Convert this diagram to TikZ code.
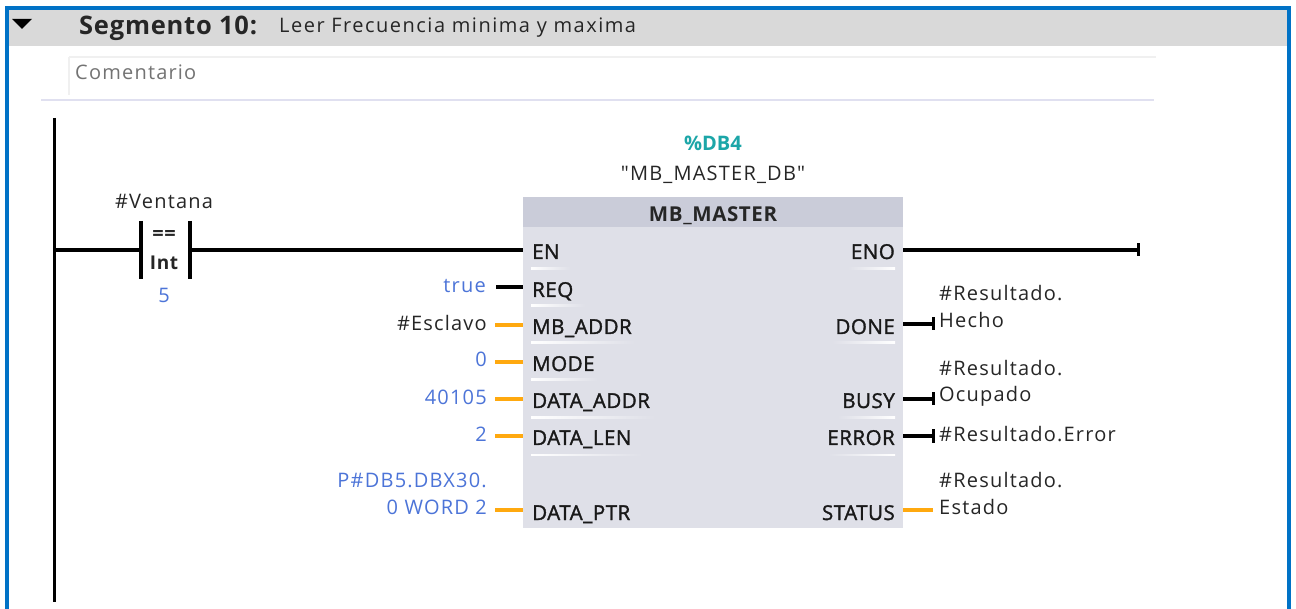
\documentclass[tikz,border=0pt]{standalone}
\usepackage{fontspec}
\setmainfont{Open Sans}
\newfontfamily\lblfont[LetterSpace=6]{Open Sans}
\newfontfamily\titlefont[LetterSpace=7.5]{Open Sans}
\newfontfamily\segfont[LetterSpace=3]{Open Sans}
\newfontfamily\pinfont[LetterSpace=2.5,FakeBold=1.5]{Open Sans}
\definecolor{frameblue}{HTML}{0072C6}
\definecolor{headgrey}{HTML}{D9D9D9}
\definecolor{blockbg}{HTML}{DFE0E8}
\definecolor{blockhead}{HTML}{CACCD9}
\definecolor{valblue}{HTML}{4C74D8}
\definecolor{tealdb}{HTML}{1CA6A8}
\definecolor{wire}{HTML}{FFA90F}
\definecolor{sepline}{HTML}{E0E0F0}
\tikzset{
  x=1pt,y=-1pt,
  lbl/.style={inner sep=0pt,font=\lblfont\fontsize{20}{20}\selectfont,text=black!85},
  pinl/.style={lbl,anchor=base west,font=\pinfont\fontsize{20.5}{20.5}\selectfont,text=black!90},
  pinr/.style={pinl,anchor=base east},
  val/.style={lbl,anchor=base east,text=valblue},
  outlbl/.style={lbl,anchor=base west},
  bw/.style={line width=3.5pt,black},
  ow/.style={line width=3.5pt,wire},
  endtick/.style={line width=3pt,black}
}
\begin{document}
\begin{tikzpicture}
\useasboundingbox (0,0) rectangle (1296,609);
\fill[white] (0,0) rectangle (1296,609);
% frame
\fill[headgrey] (7,9) rectangle (1288,46);
\draw[frameblue,line width=4pt] (7,609) -- (7,8) -- (1289,8) -- (1289,609);
\fill[black] (12,19) -- (32,19) -- (22,29) -- cycle;
\node[lbl,anchor=base west,font=\segfont\fontsize{25.5}{25.5}\selectfont\bfseries] (seg) at (79,34.5) {Segmento 10:};
\node[lbl,anchor=base west,font=\titlefont\fontsize{20}{20}\selectfont] (title) at (279,33) {Leer Frecuencia minima y maxima};
\draw[black!6,line width=1.5pt] (69,57) -- (1156,57) (69,57) -- (69,95);
\node[lbl,anchor=base west,text=black!55] (com) at (75,80) {Comentario};
\draw[sepline,line width=2pt] (41,100) -- (1154,100);
% rail
\coordinate (railtop) at (54.5,118);
\coordinate (railbot) at (54.5,602);
\draw[black,line width=3.5pt] (railtop) -- (railbot);
% block
\node[lbl,text=tealdb,font=\rmfamily\fontsize{20}{20}\selectfont\bfseries,anchor=base] (db) at (713,151) {\%DB4};
\node[lbl,anchor=base] (dbn) at (713,181) {"MB\_MASTER\_DB"};
\fill[blockbg] (523,197) rectangle (903,528);
\node[draw=none,fill=blockhead,minimum width=380pt,minimum height=30pt,inner sep=0pt,anchor=north west] (head) at (523,197) {};
\node[lbl,anchor=base,font=\segfont\fontsize{20.5}{20.5}\selectfont\bfseries] (hname) at (713,222) {MB\_MASTER};
% contact
\node[lbl,anchor=base] (vent) at (164,209) {\#Ventana};
\node[lbl,anchor=base,font=\segfont\fontsize{20}{20}\selectfont\bfseries] (eq) at (164,241) {==};
\node[lbl,anchor=base,font=\segfont\fontsize{19}{19}\selectfont\bfseries] (int) at (164,270) {Int};
\node[lbl,anchor=base,text=valblue] (five) at (164,303) {5};
\coordinate (cl) at (141,250);
\coordinate (cr) at (190,250);
\draw[black,line width=3.5pt] (141,221) -- (141,279) (190,221) -- (190,279);
\coordinate (rail5) at (54.5,250);
\coordinate (en) at (523,250);
\draw[bw] (rail5) -- (cl) (cr) -- (en);
% pins left
\foreach \n/\t/\y in {en/EN/259,req/REQ/297,addr/MB\_ADDR/334,mode/MODE/371,daddr/DATA\_ADDR/408,dlen/DATA\_LEN/445,dptr/DATA\_PTR/520}
  \node[pinl] (p\n) at (532,\y) {\t};
\foreach \y/\e in {267.5/570,305/585,342/635,379/598,416.5/655,454/642}
  \shade[left color=white,right color=blockbg] (531,\y) rectangle (\e,\y+1.6);
% right pins
\foreach \n/\t/\y in {eno/ENO/259,done/DONE/334,busy/BUSY/408,err/ERROR/445,stat/STATUS/520}
  \node[pinr] (p\n) at (895,\y) {\t};
\foreach \y/\s in {267.5/848,342/832,416.5/838,454/828}
  \shade[right color=white,left color=blockbg] (\s,\y) rectangle (895,\y+1.6);
% values
\node[val] (vreq) at (486,293) {true};
\node[val,text=black!85] (vaddr) at (487,331) {\#Esclavo};
\node[val] (vmode) at (487,367) {0};
\node[val] (vdaddr) at (487,405) {40105};
\node[val] (vdlen) at (487,442) {2};
\node[val] (vptra) at (487,487) {P\#DB5.DBX30.};
\node[val] (vptrb) at (487,514.5) {0 WORD 2};
% input wires
\coordinate (a1) at (496,287); \coordinate (b1) at (523,287);
\coordinate (a2) at (495,325); \coordinate (b2) at (523,325);
\coordinate (a3) at (495,362); \coordinate (b3) at (523,362);
\coordinate (a4) at (495,399); \coordinate (b4) at (523,399);
\coordinate (a5) at (495,436); \coordinate (b5) at (523,436);
\coordinate (a6) at (495,510); \coordinate (b6) at (523,510);
\draw[bw] (a1) -- (b1);
\draw[ow] (a2) -- (b2) (a3) -- (b3) (a4) -- (b4) (a5) -- (b5) (a6) -- (b6);
% outputs
\coordinate (eno) at (903,250); \coordinate (enoe) at (1138,250);
\draw[bw] (eno) -- (enoe);
\draw[endtick] (1138,243.5) -- (1138,256.5);
\coordinate (o1) at (903,324); \coordinate (o1e) at (933,324);
\coordinate (o2) at (903,399); \coordinate (o2e) at (933,399);
\coordinate (o3) at (903,436); \coordinate (o3e) at (933,436);
\coordinate (o4) at (903,510); \coordinate (o4e) at (933,510);
\draw[bw] (o1) -- (o1e) (o2) -- (o2e) (o3) -- (o3e);
\draw[ow] (o4) -- (o4e);
\draw[endtick] (933,317.5) -- (933,330.5) (933,392.5) -- (933,405.5) (933,429.5) -- (933,442.5);
\node[outlbl] (r1a) at (939,301) {\#Resultado.};
\node[outlbl] (r1b) at (939,328) {Hecho};
\node[outlbl] (r2a) at (939,375.5) {\#Resultado.};
\node[outlbl] (r2b) at (939,402) {Ocupado};
\node[outlbl] (r3) at (939,442) {\#Resultado.Error};
\node[outlbl] (r4a) at (939,487) {\#Resultado.};
\node[outlbl] (r4b) at (939,514) {Estado};
\end{tikzpicture}
\end{document}
